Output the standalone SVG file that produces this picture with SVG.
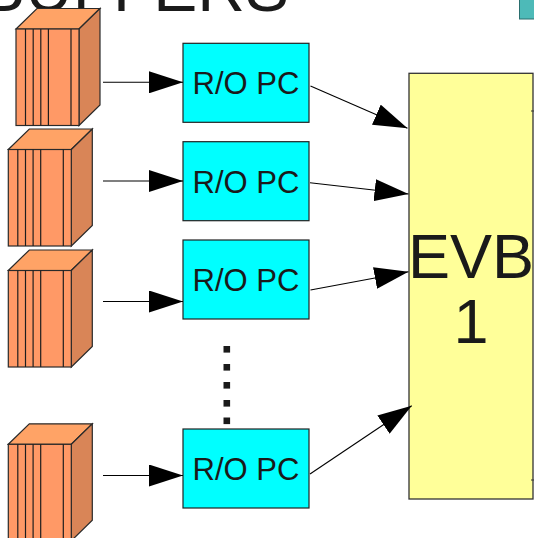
<svg xmlns="http://www.w3.org/2000/svg" xmlns:xlink="http://www.w3.org/1999/xlink" width="534" height="538" viewBox="0 0 534 538">
<style>
.lbl{font-family:"Liberation Sans",Arial,sans-serif;fill:#1a1a1a}
.box{fill:#00ffff;stroke:#222;stroke-width:1.2}
.conn{stroke:#000;stroke-width:1.1;fill:none;marker-end:url(#ah)}
.front{fill:#ff9966;stroke:#2a2a2a;stroke-width:1.2}
.top{fill:#ffa366;stroke:#2a2a2a;stroke-width:1.2}
.side{fill:#d98557;stroke:#2a2a2a;stroke-width:1.2}
.stripe{stroke:#1e1e1e;stroke-width:1.2}
.dot{fill:#1a1a1a}
</style>
<defs>
<marker id="ah" markerWidth="34" markerHeight="22" refX="34" refY="11" orient="auto" markerUnits="userSpaceOnUse">
<path d="M0,0 L34,11 L0,22 z" fill="#000"/>
</marker>
<g id="cube">
<polygon class="top" points="0,0 21,-20.5 84,-20.5 63,0"/>
<polygon class="side" points="63,0 84,-20.5 84,76 63,96.5"/>
<rect class="front" x="0" y="0" width="63" height="96.5"/>
<path class="stripe" d="M9.5,0V96.5M17.2,0V96.5M24.8,0V96.5M32.4,0V96.5M55,0V96.5"/>
</g>
</defs>
<rect width="534" height="538" fill="#ffffff"/>
<text class="lbl" x="-19" y="11" font-size="66">BUFFERS</text>
<rect x="519.5" y="-2" width="20" height="21" fill="#4dbab8" stroke="#2a6e6e" stroke-width="1"/>
<g id="evb">
<rect x="409" y="73.3" width="124" height="425.7" fill="#ffff99" stroke="#333" stroke-width="1.3"/>
<path d="M531,111H534M531,480H534" stroke="#333" stroke-width="1"/>
<text class="lbl" x="471" y="278" font-size="63" text-anchor="middle">EVB</text>
<text class="lbl" x="471" y="343" font-size="63" text-anchor="middle">1</text>
</g>
<g id="cube1"><use xlink:href="#cube" x="16" y="29"/></g>
<g id="cube2"><use xlink:href="#cube" x="8.3" y="149.5"/></g>
<g id="cube3"><use xlink:href="#cube" x="8.3" y="270.5"/></g>
<g id="cube4"><use xlink:href="#cube" x="8.3" y="444.3"/></g>
<g id="pc1"><rect class="box" x="183" y="43.3" width="126" height="79"/><text class="lbl" x="246" y="94.3" font-size="31" text-anchor="middle">R/O PC</text></g>
<g id="pc2"><rect class="box" x="183" y="141.7" width="126" height="79"/><text class="lbl" x="246" y="192.7" font-size="31" text-anchor="middle">R/O PC</text></g>
<g id="pc3"><rect class="box" x="183" y="240" width="126" height="79"/><text class="lbl" x="246" y="291" font-size="31" text-anchor="middle">R/O PC</text></g>
<g id="pc4"><rect class="box" x="183" y="429" width="126" height="79"/><text class="lbl" x="246" y="480" font-size="31" text-anchor="middle">R/O PC</text></g>
<g id="ellipsis">
<rect class="dot" x="223.5" y="346" width="6.6" height="6.6"/>
<rect class="dot" x="223.5" y="364" width="6.6" height="6.6"/>
<rect class="dot" x="223.5" y="382" width="6.6" height="6.6"/>
<rect class="dot" x="223.5" y="400" width="6.6" height="6.6"/>
<rect class="dot" x="223.5" y="417.5" width="6.6" height="6.6"/>
</g>
<g id="connectors">
<line class="conn" x1="103" y1="82.3" x2="183" y2="82.3"/>
<line class="conn" x1="103" y1="181" x2="183" y2="181"/>
<line class="conn" x1="103" y1="301.5" x2="183" y2="301.5"/>
<line class="conn" x1="103" y1="475.5" x2="183" y2="475.5"/>
<line class="conn" x1="310.5" y1="86" x2="407.5" y2="128.3"/>
<line class="conn" x1="310" y1="182.7" x2="408.5" y2="194"/>
<line class="conn" x1="310.5" y1="290" x2="408.5" y2="271.7"/>
<line class="conn" x1="310" y1="474" x2="411.7" y2="405.7"/>
</g>
</svg>
